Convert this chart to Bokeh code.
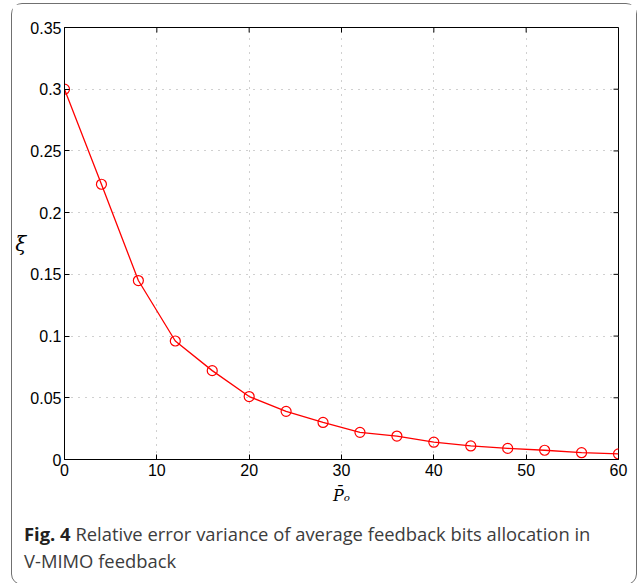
from bokeh.plotting import figure
from bokeh.models import FixedTicker, Range1d, Div
from bokeh.layouts import column
from bokeh.embed import file_html
from bokeh.resources import INLINE

# ---- data ----
p_o = [0, 4, 8, 12, 16, 20, 24, 28, 32, 36, 40, 44, 48, 52, 56, 60]
xi = [0.300, 0.223, 0.145, 0.096, 0.072, 0.051, 0.039, 0.030, 0.022,
      0.019, 0.014, 0.011, 0.009, 0.0075, 0.0055, 0.0045]
x_ticks = [0, 10, 20, 30, 40, 50, 60]
y_ticks = [0, 0.05, 0.1, 0.15, 0.2, 0.25, 0.3, 0.35]
y_tick_labels = ["0", "0.05", "0.1", "0.15", "0.2", "0.25", "0.3", "0.35"]
x_label = "P\u0304\u2092"
y_label = "\u03be"
caption_bold = "Fig. 4"
caption_line1 = "Relative error variance of average feedback bits allocation in"
caption_line2 = "V-MIMO feedback"

# ---- geometry (page px) ----
CANVAS_L, CANVAS_T = 12, 4
SHIFT_X, SHIFT_Y = 3, 2          # observed offset of children inside the layout
FIG_W, FIG_H = 624, 511
FR_L, FR_R, FR_T, FR_B = 65, 621, 29, 461
X_MIN, X_MAX = 0, 60
Y_MIN, Y_MAX = 0, 0.35

p = figure(width=FIG_W, height=FIG_H,
           x_range=Range1d(X_MIN, X_MAX), y_range=Range1d(Y_MIN, Y_MAX),
           output_backend="svg", toolbar_location=None)
p.min_border_left = FR_L - CANVAS_L - SHIFT_X
p.min_border_top = FR_T - CANVAS_T - SHIFT_Y
p.min_border_right = (CANVAS_L + FIG_W) - FR_R + SHIFT_X
p.min_border_bottom = (CANVAS_T + FIG_H) - FR_B + SHIFT_Y
p.outline_line_color = "black"
p.outline_line_width = 1
p.background_fill_color = "white"
p.border_fill_color = "white"

# axes
for ax in (p.xaxis[0], p.yaxis[0]):
    ax.major_tick_in = 5
    ax.major_tick_out = 0
    ax.minor_tick_line_color = None
    ax.axis_line_color = "black"
    ax.major_tick_line_color = "black"
    ax.major_label_text_font = "Liberation Sans"
    ax.major_label_text_font_size = "16px"
    ax.major_label_text_color = "black"
    ax.axis_label_text_font = "DejaVu Serif"
    ax.axis_label_text_font_style = "italic"
    ax.axis_label_text_color = "black"
p.xaxis.ticker = FixedTicker(ticks=x_ticks)
p.yaxis.ticker = FixedTicker(ticks=y_ticks)
p.yaxis.major_label_overrides = {t: s for t, s in zip(y_ticks, y_tick_labels)}
p.xaxis.major_label_standoff = 4
p.yaxis.major_label_standoff = 3
p.xaxis.axis_label = x_label
p.xaxis.axis_label_text_font_size = "16px"
p.xaxis.axis_label_standoff = 7
p.yaxis.axis_label = y_label
p.yaxis.axis_label_text_font_size = "20px"
p.yaxis.axis_label_orientation = "horizontal"
p.yaxis.axis_label_standoff = 1

# mirrored ticks on top and right (5 px inward)
px_per_x = (FR_R - FR_L) / (X_MAX - X_MIN)
px_per_y = (FR_B - FR_T) / (Y_MAX - Y_MIN)
tick_dx = 5 / px_per_x
tick_dy = 5 / px_per_y
p.segment(x0=x_ticks, y0=[Y_MAX] * len(x_ticks), x1=x_ticks,
          y1=[Y_MAX - tick_dy] * len(x_ticks), line_color="black", line_width=1)
p.segment(x0=[X_MAX] * len(y_ticks), y0=y_ticks, x1=[X_MAX - tick_dx] * len(y_ticks),
          y1=y_ticks, line_color="black", line_width=1)

# grid
p.xgrid.ticker = FixedTicker(ticks=x_ticks)
p.ygrid.ticker = FixedTicker(ticks=y_ticks)
for g in (p.xgrid[0], p.ygrid[0]):
    g.grid_line_color = "#a0a0a0"
    g.grid_line_dash = "1 6"
    g.grid_line_width = 1

# data
p.line(p_o, xi, line_color="red", line_width=1.3)
p.scatter(p_o, xi, marker="circle", size=10, fill_color=None,
          line_color="red", line_width=1.2)

caption = Div(
    text=(
        "<div style=\"font-family:'Open Sans';font-size:18.4px;line-height:27px;"
        "color:#3c3c3c;padding:0 0 0 7px;white-space:nowrap\">"
        f"<b style=\"color:#231f20\">{caption_bold}</b> {caption_line1}<br>{caption_line2}</div>"
    ),
    width=FIG_W - 10, height=576 - FIG_H - 6,
)

layout = column(p, caption, spacing=0)
layout.styles = {"margin-left": f"{CANVAS_L}px", "margin-top": f"{CANVAS_T}px",
                 "outline": "1.6px solid #707070", "border-radius": "10px",
                 "background-color": "white"}

open("out.html", "w").write(file_html(layout, INLINE))
